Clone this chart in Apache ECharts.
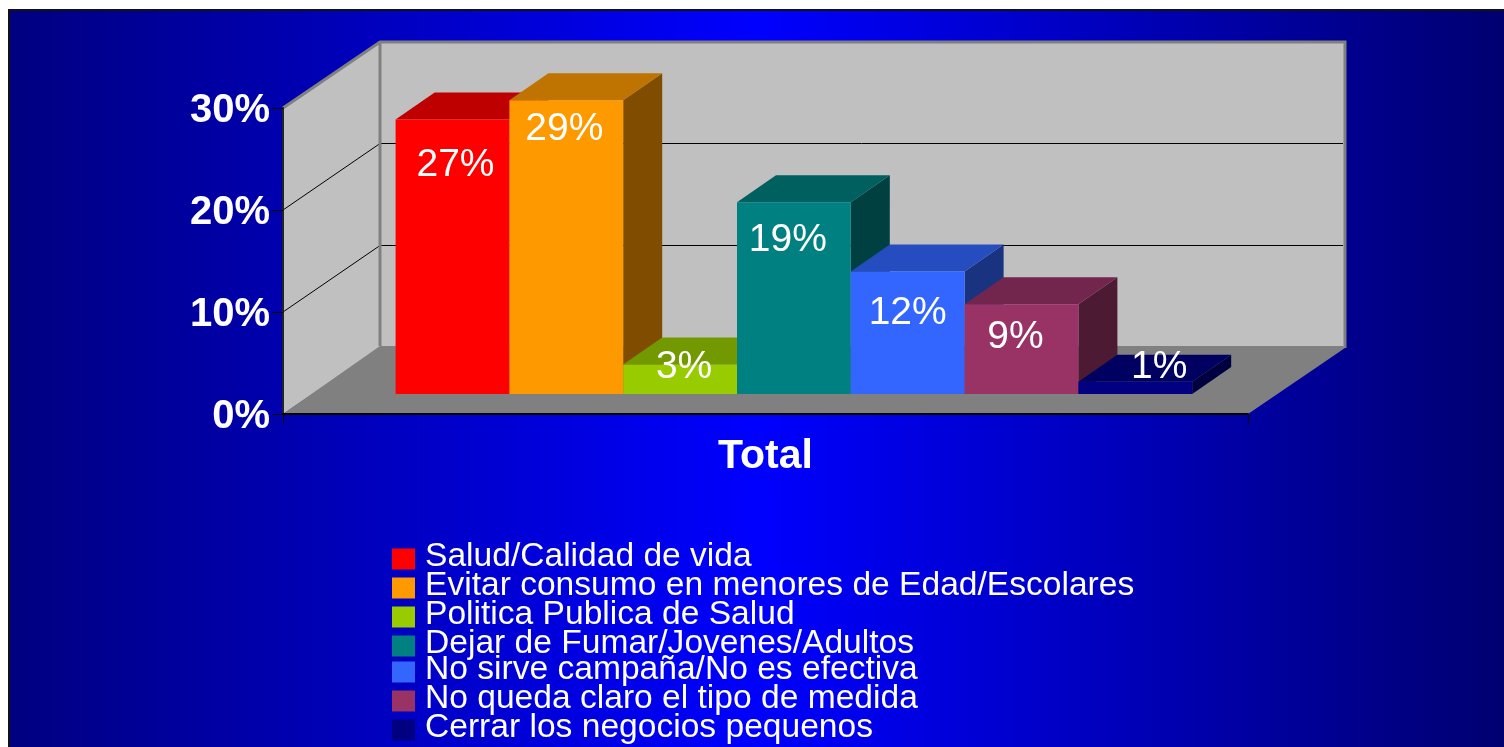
<!DOCTYPE html>
<html><head><meta charset="utf-8">
<style>html,body{margin:0;padding:0;background:#fff}#c{width:1504px;height:747px}</style>
<script src="https://cdn.jsdelivr.net/npm/echarts@6/dist/echarts.min.js"></script>
</head><body><div id="c"></div>
<script>
const categories = ['Total'];
const seriesNames = ['Salud/Calidad de vida','Evitar consumo en menores de Edad/Escolares','Politica Publica de Salud','Dejar de Fumar/Jovenes/Adultos','No sirve campaña/No es efectiva','No queda claro el tipo de medida','Cerrar los negocios pequenos'];
const seriesValues = [26.9, 28.8, 2.9, 18.8, 12.0, 8.8, 1.2];
const valueTicks = [0, 10, 20, 30];

const frontColors = ['#FF0000','#FF9900','#99CC00','#008080','#3366FF','#993366','#000080'];
const topColors   = ['#BF0000','#BF7300','#739900','#006060','#264DBF','#73264D','#000060'];
const sideColors  = ['#800000','#804D00','#4D6600','#004040','#1A3380','#4D1A33','#000040'];
const labelOffsetX = [3, -2, 4, -6, 0, -6, 24];
const labelOffsetY = [46, 29, 3, 38, 42, 33, -15];
const legendTops = [540, 569, 598, 627, 653, 682, 711];

const WALL_DX = 97, WALL_DY = -66, FLOOR_BACK_DY = -68, FLOOR_DY = -20, BAR_DX = 39, BAR_DY = -27;
const BARS_LEFT = 112.6, BAR_W = 113.8;
const FONT = '"Liberation Sans", Arial, sans-serif';

function wallsItem(params, api) {
  const cs = params.coordSys;
  const L = cs.x, R = cs.x + cs.width;
  const y0 = api.coord([0, valueTicks[0]])[1];
  const yT = api.coord([0, valueTicks[valueTicks.length - 1]])[1];
  const kids = [];
  const poly = (points, fill) => kids.push({type:'polygon', shape:{points}, style:{fill}});
  poly([[L,yT],[L+WALL_DX,yT+WALL_DY],[L+WALL_DX,y0+WALL_DY],[L,y0]], '#C0C0C0');
  poly([[L+WALL_DX,yT+WALL_DY],[R+WALL_DX,yT+WALL_DY],[R+WALL_DX,y0+WALL_DY],[L+WALL_DX,y0+WALL_DY]], '#C0C0C0');
  poly([[L,y0],[L+WALL_DX,y0+FLOOR_BACK_DY],[R+WALL_DX-2,y0+FLOOR_BACK_DY],[R+WALL_DX,y0+WALL_DY],[R,y0]], '#808080');
  valueTicks.slice(1, -1).forEach(t => {
    const y = api.coord([0, t])[1] + WALL_DY - 0.5;
    kids.push({type:'polyline', shape:{points:[[L,y-WALL_DY+0.5],[L+WALL_DX,y],[R+WALL_DX-2,y]]}, style:{fill:null, stroke:'#000', lineWidth:1}});
  });
  kids.push({type:'polyline', shape:{points:[[L,yT],[L+WALL_DX,yT+WALL_DY],[R+WALL_DX,yT+WALL_DY],[R+WALL_DX,y0+WALL_DY]]}, style:{fill:null, stroke:'#808080', lineWidth:3}});
  kids.push({type:'line', shape:{x1:L+WALL_DX,y1:yT+WALL_DY,x2:L+WALL_DX,y2:y0+FLOOR_BACK_DY}, style:{stroke:'#808080', lineWidth:3}});
  kids.push({type:'line', shape:{x1:L+0.5,y1:y0,x2:L+0.5,y2:y0+10}, style:{stroke:'#000', lineWidth:1}});
  return {type:'group', children:kids};
}

function barItem(i) {
  return function (params, api) {
    const cs = params.coordSys;
    const v = api.value(1);
    const x0 = cs.x + BARS_LEFT + i * BAR_W, x1 = x0 + BAR_W;
    const yB = api.coord([0, 0])[1] + FLOOR_DY;
    const yT = api.coord([0, v])[1] + FLOOR_DY;
    const front = [[x0,yT],[x1,yT],[x1,yB],[x0,yB]];
    const top = [[x0,yT],[x0+BAR_DX,yT+BAR_DY],[x1+BAR_DX,yT+BAR_DY],[x1,yT]];
    const side = [[x1,yT],[x1+BAR_DX,yT+BAR_DY],[x1+BAR_DX,yB+BAR_DY],[x1,yB]];
    return {type:'group', children:[
      {type:'polygon', shape:{points:side}, style:{fill:sideColors[i]}},
      {type:'polygon', shape:{points:top}, style:{fill:topColors[i]}},
      {type:'polygon', shape:{points:front}, style:{fill:frontColors[i]}},
      {type:'text', z2:10, style:{text:Math.round(v)+'%', x:(x0+x1)/2+labelOffsetX[i], y:yT+labelOffsetY[i], fill:'#fff', font:'39px '+FONT, textAlign:'center', textVerticalAlign:'middle'}}
    ]};
  };
}

const series = [{
  type:'custom', name:'walls', silent:true, clip:false, z:1,
  coordinateSystem:'cartesian2d', renderItem:wallsItem, data:[[0, 0]], encode:{x:0,y:1}
}].concat(seriesNames.map((name, i) => ({
  type:'custom', name, silent:true, clip:false, z:2,
  coordinateSystem:'cartesian2d', renderItem:barItem(i),
  itemStyle:{color:frontColors[i]},
  data:[[0, seriesValues[i]]], encode:{x:0,y:1}
})));

const chart = echarts.init(document.getElementById('c'), null, {renderer:'canvas'});
chart.setOption({
  animation:false,
  backgroundColor:'#FFFFFF',
  graphic:[{type:'rect', z:-10, silent:true, shape:{x:9,y:10,width:1496,height:739},
    style:{stroke:'#111', lineWidth:2, fill:new echarts.graphic.LinearGradient(0,0,1,0,[
      {offset:0,color:'#000080'},{offset:0.5,color:'#0000FF'},{offset:1,color:'#000070'}])}}],
  grid:{left:283, top:108, width:965, height:306},
  xAxis:{type:'category', data:categories,
    axisLine:{lineStyle:{color:'#000',width:2}},
    axisTick:{show:true, length:10, lineStyle:{color:'#000',width:1}},
    axisLabel:{color:'#fff', fontFamily:FONT, fontWeight:'bold', fontSize:41, margin:22}, z:5},
  yAxis:{type:'value', min:0, max:30, interval:10,
    axisLine:{show:true, lineStyle:{color:'#222',width:2}},
    axisTick:{show:true, length:11, lineStyle:{color:'#000',width:1}},
    splitLine:{show:false},
    axisLabel:{color:'#fff', fontFamily:FONT, fontWeight:'bold', fontSize:40, margin:13, verticalAlign:'top', lineHeight:6, formatter:'{value}%'}, z:5},
  legend:seriesNames.map((name, i) => ({
    data:[name], left:392, top:legendTops[i], icon:'rect', itemWidth:23, itemHeight:21,
    selectedMode:false, padding:0,
    formatter:'{t|{name}}',
    textStyle:{color:'#fff', fontFamily:FONT, fontSize:33.6,
      rich:{t:{color:'#fff', fontFamily:FONT, fontSize:33.6, padding:[0,0,4,5]}}}
  })),
  series
});
</script></body></html>
